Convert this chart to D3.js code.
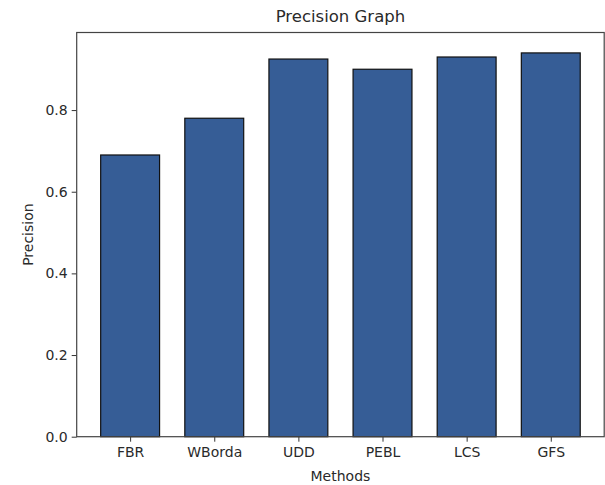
<!DOCTYPE html>
<html>
<head>
<meta charset="utf-8">
<script src="https://cdn.jsdelivr.net/npm/d3@7"></script>
<style>
  html, body { margin: 0; padding: 0; background: #fff; }
  svg { display: block; }
  text { font-family: "DejaVu Sans", sans-serif; fill: #2a2a2a; }
</style>
</head>
<body>
<svg id="chart" width="605" height="485"></svg>
<script>
const categories = ["FBR", "WBorda", "UDD", "PEBL", "LCS", "GFS"];
const precision = [0.69, 0.78, 0.925, 0.90, 0.93, 0.94];
const yTicks = [0.0, 0.2, 0.4, 0.6, 0.8];
const title = "Precision Graph";
const xLabel = "Methods";
const yLabel = "Precision";

const svg = d3.select("#chart");
const mLeft = 76.7, mRight = 604.2, mTop = 32.5, mBottom = 436.7;

// matplotlib-like x: bars width 0.7, margins 0.05
const n = categories.length;
const barW = 0.7;
const lo = -barW / 2, hi = n - 1 + barW / 2;
const pad = (hi - lo) * 0.05;
const x = d3.scaleLinear().domain([lo - pad, hi + pad]).range([mLeft, mRight]);
const y = d3.scaleLinear().domain([0, 0.99]).range([mBottom, mTop]);

// bars
svg.append("g").selectAll("rect")
  .data(categories)
  .join("rect")
  .attr("x", (d, i) => x(i - barW / 2))
  .attr("width", (d, i) => x(i + barW / 2) - x(i - barW / 2))
  .attr("y", (d, i) => y(precision[i]))
  .attr("height", (d, i) => y(0) - y(precision[i]))
  .attr("fill", "#365d96")
  .attr("stroke", "#111")
  .attr("stroke-width", 1.2);

// y axis
const yAxis = d3.axisLeft(y).tickValues(yTicks).tickFormat(d3.format(".1f")).tickSize(5).tickPadding(4);
const gy = svg.append("g").attr("transform", `translate(${mLeft},0)`).call(yAxis);
gy.select(".domain").remove();
gy.selectAll("line").attr("stroke", "#333").attr("stroke-width", 1);
gy.selectAll("text").style("font-size", "14px").attr("fill", "#2a2a2a");

// x axis
const xAxis = d3.axisBottom(x).tickValues(d3.range(n)).tickFormat((d) => categories[d]).tickSize(5).tickPadding(5);
const gx = svg.append("g").attr("transform", `translate(0,${mBottom})`).call(xAxis);
gx.select(".domain").remove();
gx.selectAll("line").attr("stroke", "#333").attr("stroke-width", 1);
gx.selectAll("text").style("font-size", "14px").attr("fill", "#2a2a2a");

// spines
svg.append("rect")
  .attr("x", mLeft).attr("y", mTop)
  .attr("width", mRight - mLeft).attr("height", mBottom - mTop)
  .attr("fill", "none").attr("stroke", "#444").attr("stroke-width", 1.2);

// title & labels
svg.append("text").attr("x", (mLeft + mRight) / 2).attr("y", 22)
  .attr("text-anchor", "middle").style("font-size", "16.5px").text(title);
svg.append("text").attr("x", (mLeft + mRight) / 2).attr("y", 481)
  .attr("text-anchor", "middle").style("font-size", "14px").text(xLabel);
svg.append("text")
  .attr("transform", `translate(33,${(mTop + mBottom) / 2}) rotate(-90)`)
  .attr("text-anchor", "middle").style("font-size", "14px").text(yLabel);
</script>
</body>
</html>
